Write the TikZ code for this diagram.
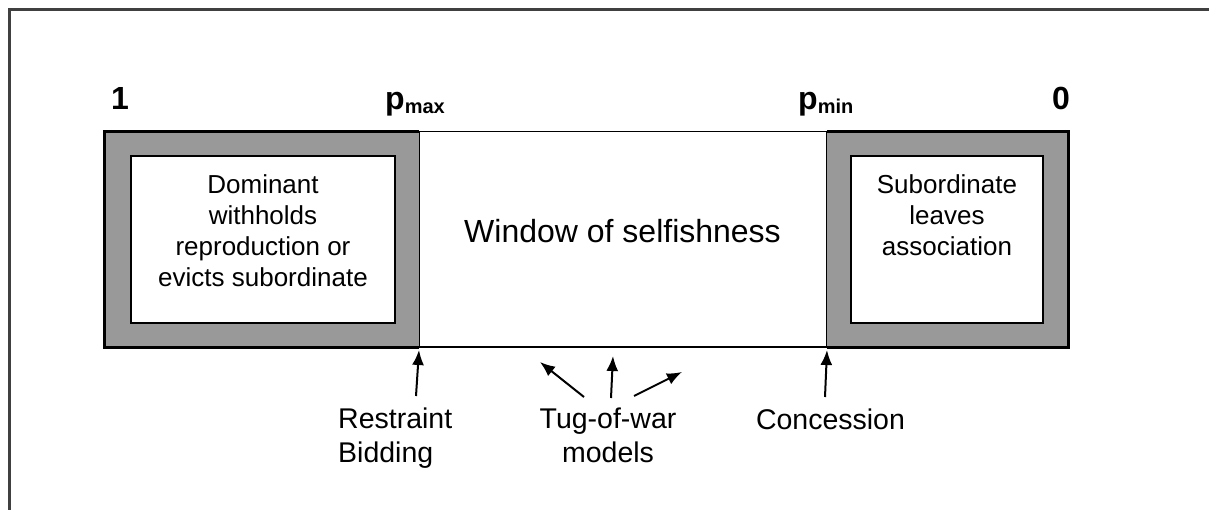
\documentclass[tikz,border=0pt]{standalone}
\usepackage{fontspec}
\setmainfont{Liberation Sans}
\usetikzlibrary{arrows.meta}
\definecolor{boxgray}{HTML}{999999}
\definecolor{framegray}{HTML}{404040}

\begin{document}
\begin{tikzpicture}[x=1pt,y=-1pt,
  rim/.style={line width=3.3pt,line join=miter},
  thinline/.style={line width=1.3pt},
  sidebox/.style={fill=boxgray,minimum height=215pt,inner sep=0pt},
  inbox/.style={draw,fill=white,line width=1.5pt,minimum height=167pt,inner sep=0pt},
  boxtext/.style={align=center,inner sep=0pt,font=\fontsize{26}{31}\selectfont},
  under/.style={inner sep=0pt,font=\fontsize{28.5}{34}\selectfont},
  ends/.style={inner sep=0pt,font=\bfseries\fontsize{32}{36}\selectfont},
  push/.style={line width=2pt,-{Latex[length=15pt,width=12pt]}}]
  \useasboundingbox (0,0) rectangle (1209,510);

  % frame
  \draw[framegray,line width=3pt] (1209,10) -- (9,10) -- (9,510);

  % the bar
  \node[sidebox,minimum width=314pt] (domBox) at (262,239.5) {};
  \node[sidebox,minimum width=241pt] (subBox) at (947.5,239.5) {};
  \node[inbox,minimum width=264pt] (domIn) at (263,239.5) {};
  \node[inbox,minimum width=192pt] (subIn) at (947,239.5) {};

  \draw[thinline] (domBox.north east) -- (subBox.north west);
  \draw[line width=2pt] (domBox.south east) -- (subBox.south west);
  \draw[thinline] (domBox.north east) -- (domBox.south east);
  \draw[thinline] (subBox.north west) -- (subBox.south west);
  \draw[rim] (domBox.north east) -- (domBox.north west)
        -- (domBox.south west) -- (domBox.south east);
  \draw[rim] (subBox.north west) -- (subBox.north east)
        -- (subBox.south east) -- (subBox.south west);

  \node[boxtext] (domText) at (263,231)
        {Dominant\\withholds\\reproduction or\\evicts subordinate};
  \node[boxtext] (subText) at (947,215) {Subordinate\\leaves\\association};
  \node[inner sep=0pt,font=\fontsize{32}{36}\selectfont,anchor=base] (window)
        at (622.5,243) {Window of selfishness};

  % scale above
  \node[ends,anchor=base] (one) at (120,110) {1};
  \node[ends,anchor=base] (zero) at (1061,110) {0};
  \node[ends,anchor=base west] (pmax) at (385,110)
        {p\raisebox{-4pt}{\fontsize{20}{20}\selectfont max}};
  \node[ends,anchor=base west] (pmin) at (798,110)
        {p\raisebox{-4pt}{\fontsize{20}{20}\selectfont min}};

  % labels below
  \node[under,anchor=north west,align=left] (restr) at (338,408) {Restraint\\Bidding};
  \node[under,anchor=north,align=center] (tug) at (608,408) {Tug-of-war\\models};
  \node[under,anchor=north] (conc) at (830.5,409) {Concession};

  \coordinate (restrTail) at (416,396);
  \coordinate (pmaxFoot) at (419,350);
  \coordinate (tugTailL) at (584,397);
  \coordinate (tugHeadL) at (540,362);
  \coordinate (tugTailM) at (611,398);
  \coordinate (tugHeadM) at (613,356);
  \coordinate (tugTailR) at (634,396);
  \coordinate (tugHeadR) at (682,372);
  \coordinate (concTail) at (825,397);
  \coordinate (pminFoot) at (827,350);

  \draw[push] (restrTail) -- (pmaxFoot);
  \draw[push] (tugTailL) -- (tugHeadL);
  \draw[push] (tugTailM) -- (tugHeadM);
  \draw[push] (tugTailR) -- (tugHeadR);
  \draw[push] (concTail) -- (pminFoot);
\end{tikzpicture}
\end{document}
